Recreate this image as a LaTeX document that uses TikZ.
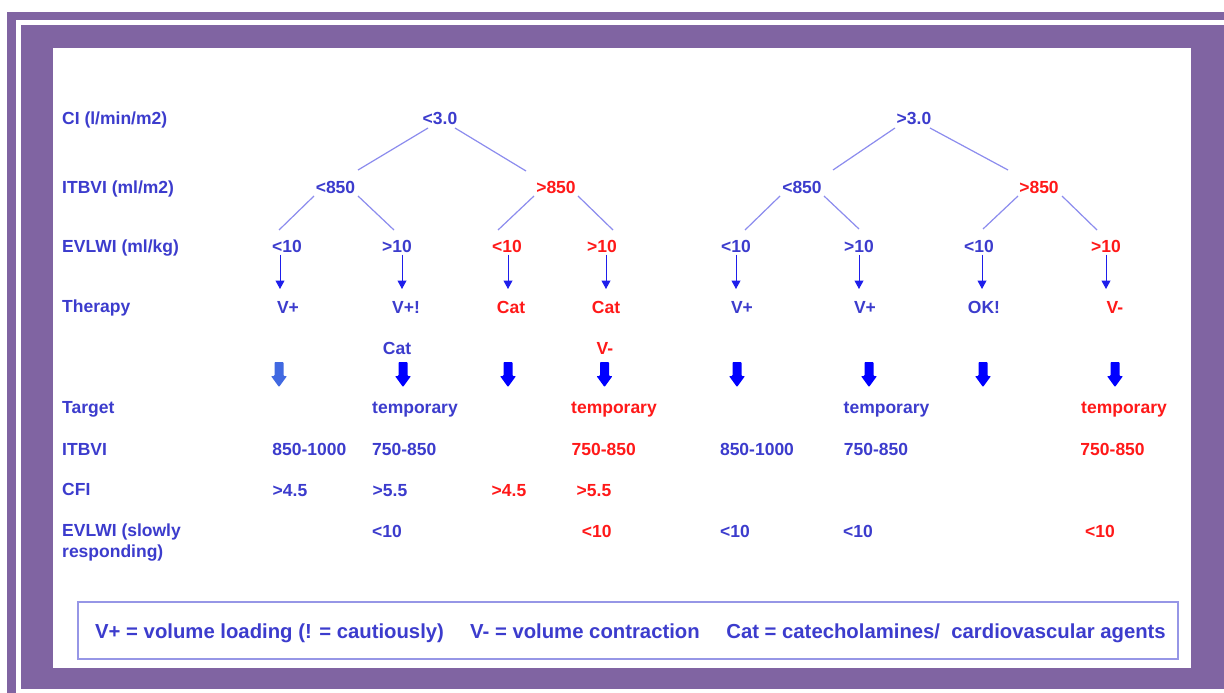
\documentclass[tikz,border=0pt]{standalone}
\usepackage{fontspec}
\setmainfont{Liberation Sans}
\usetikzlibrary{arrows.meta}
\definecolor{frame}{RGB}{128,100,162}
\definecolor{tb}{RGB}{60,60,205}
\definecolor{tr}{RGB}{255,25,25}
\definecolor{ln}{RGB}{140,140,238}
\definecolor{arr}{RGB}{30,30,235}
\definecolor{blk}{RGB}{0,0,255}
\definecolor{blkl}{RGB}{65,105,225}
\definecolor{lg}{RGB}{150,150,230}
\begin{document}
\begin{tikzpicture}[x=1pt,y=-1pt,
  lbl/.style={font=\bfseries\fontsize{17.5}{21}\selectfont, text height=12.5pt, text depth=0pt, inner sep=0pt, text=tb},
  bl/.style={lbl},
  rd/.style={lbl,text=tr},
  row/.style={lbl,anchor=west},
  tl/.style={draw=ln,line width=1.2pt},
  sa/.style={draw=arr,line width=1pt,-{Triangle[length=8.5pt,width=9pt]}},
  legtext/.style={font=\bfseries\fontsize{20.3}{24}\selectfont, text height=14.5pt, text depth=0pt, inner sep=0pt, text=tb},
  blockarrow/.pic={\fill[rounded corners=0.8pt] (-4.5,0) -- (4.5,0) -- (4.5,14) -- (8,14) -- (0,25) -- (-8,14) -- (-4.5,14) -- cycle;}
]
\useasboundingbox (0,0) rectangle (1224,693);
% frame
\fill[white] (0,0) rectangle (1224,693);
\fill[frame] (7,12) rectangle (1224,693);
\fill[white] (16,20.5) rectangle (1224,693);
\fill[frame] (21,25) rectangle (1224,689);
\fill[white] (53,48) rectangle (1191,668);

% row labels
\node[row] (rCI) at (62,118) {CI (l/min/m2)};
\node[row] (rIT) at (62,187) {ITBVI (ml/m2)};
\node[row] (rEV) at (62,246.5) {EVLWI (ml/kg)};
\node[row] (rTh) at (62,306.5) {Therapy};
\node[row] (rTa) at (62,407.5) {Target};
\node[row] (rIT2) at (62,449.5) {ITBVI};
\node[row] (rCFI) at (62,489.5) {CFI};
\node[row] (rEs1) at (62,530) {EVLWI (slowly};
\node[row] (rEs2) at (62,551) {responding)};

% tree
\node[bl] (a0) at (440,118) {<3.0};
\node[bl] (b0) at (914,118) {>3.0};
\node[bl] (a1) at (335.5,187) {<850};
\node[rd] (a2) at (556,187) {>850};
\node[bl] (b1) at (802,187) {<850};
\node[rd] (b2) at (1039,187) {>850};

\node[bl] (e1) at (287,246.5) {<10};
\node[bl] (e2) at (397,246.5) {>10};
\node[rd] (e3) at (507,246.5) {<10};
\node[rd] (e4) at (602,246.5) {>10};
\node[bl] (e5) at (736,246.5) {<10};
\node[bl] (e6) at (859,246.5) {>10};
\node[bl] (e7) at (979,246.5) {<10};
\node[rd] (e8) at (1106,246.5) {>10};

\draw[tl] ([xshift=-12pt,yshift=-10pt]a0.center) -- ([xshift=22.5pt,yshift=17pt]a1.center);
\draw[tl] ([xshift=15pt,yshift=-10pt]a0.center) -- ([xshift=-30pt,yshift=16pt]a2.center);
\draw[tl] ([xshift=-21.5pt,yshift=-9pt]a1.center) -- ([xshift=-8pt,yshift=16.5pt]e1.center);
\draw[tl] ([xshift=22.5pt,yshift=-9pt]a1.center) -- ([xshift=-3pt,yshift=16.5pt]e2.center);
\draw[tl] ([xshift=-22pt,yshift=-9pt]a2.center) -- ([xshift=-9pt,yshift=16.5pt]e3.center);
\draw[tl] ([xshift=22pt,yshift=-9pt]a2.center) -- ([xshift=11pt,yshift=16.5pt]e4.center);
\draw[tl] ([xshift=-19pt,yshift=-10pt]b0.center) -- ([xshift=31pt,yshift=17pt]b1.center);
\draw[tl] ([xshift=16pt,yshift=-10pt]b0.center) -- ([xshift=-31pt,yshift=17pt]b2.center);
\draw[tl] ([xshift=-22pt,yshift=-9pt]b1.center) -- ([xshift=9pt,yshift=16.5pt]e5.center);
\draw[tl] ([xshift=22pt,yshift=-9pt]b1.center) -- ([xshift=0pt,yshift=17.5pt]e6.center);
\draw[tl] ([xshift=-21pt,yshift=-9pt]b2.center) -- ([xshift=4pt,yshift=17.5pt]e7.center);
\draw[tl] ([xshift=23pt,yshift=-9pt]b2.center) -- ([xshift=-9pt,yshift=16.5pt]e8.center);

% small arrows
\draw[sa] ([xshift=-7pt,yshift=-8pt]e1.center) -- ([xshift=-7pt,yshift=-42.5pt]e1.center);
\draw[sa] ([xshift=5pt,yshift=-8pt]e2.center) -- ([xshift=5pt,yshift=-42.5pt]e2.center);
\draw[sa] ([xshift=1pt,yshift=-8pt]e3.center) -- ([xshift=1pt,yshift=-42.5pt]e3.center);
\draw[sa] ([xshift=4pt,yshift=-8pt]e4.center) -- ([xshift=4pt,yshift=-42.5pt]e4.center);
\draw[sa] ([yshift=-8pt]e5.center) -- ([yshift=-42.5pt]e5.center);
\draw[sa] ([yshift=-8pt]e6.center) -- ([yshift=-42.5pt]e6.center);
\draw[sa] ([xshift=3pt,yshift=-8pt]e7.center) -- ([xshift=3pt,yshift=-42.5pt]e7.center);
\draw[sa] ([yshift=-8pt]e8.center) -- ([yshift=-42.5pt]e8.center);

% therapy
\node[bl] (t1) at (288,307) {V+};
\node[bl] (t2) at (406,307) {V+!};
\node[rd] (t3) at (511,307) {Cat};
\node[rd] (t4) at (606,307) {Cat};
\node[bl] (t5) at (742,307) {V+};
\node[bl] (t6) at (865,307) {V+};
\node[bl] (t7) at (984,307) {OK!};
\node[rd] (t8) at (1115,307) {V-};
\node[bl] (c2) at (397,348.3) {Cat};
\node[rd] (c4) at (605,348.3) {V-};

% block arrows
\pic[blkl] at (279,362) {blockarrow};
\pic[blk] at (403,362) {blockarrow};
\pic[blk] at (508,362) {blockarrow};
\pic[blk] at (604.5,362) {blockarrow};
\pic[blk] at (737,362) {blockarrow};
\pic[blk] at (869,362) {blockarrow};
\pic[blk] at (983,362) {blockarrow};
\pic[blk] at (1115,362) {blockarrow};

% target
\node[bl] (g1) at (415,407.7) {temporary};
\node[rd] (g2) at (614,407.7) {temporary};
\node[bl] (g3) at (886.5,407.7) {temporary};
\node[rd] (g4) at (1124,407.7) {temporary};

\node[bl] (i1) at (309.3,449.5) {850-1000};
\node[bl] (i2) at (404.3,449.5) {750-850};
\node[rd] (i3) at (603.7,449.5) {750-850};
\node[bl] (i4) at (757,449.5) {850-1000};
\node[bl] (i5) at (876,449.5) {750-850};
\node[rd] (i6) at (1112.6,449.5) {750-850};

\node[bl] (f1) at (290,490) {>4.5};
\node[bl] (f2) at (390,490) {>5.5};
\node[rd] (f3) at (509,490) {>4.5};
\node[rd] (f4) at (594,490) {>5.5};

\node[bl] (s1) at (387,531) {<10};
\node[rd] (s2) at (596.7,531) {<10};
\node[bl] (s3) at (735,531) {<10};
\node[bl] (s4) at (858,531) {<10};
\node[rd] (s5) at (1100,531) {<10};

% legend
\node[draw=lg, line width=1.2pt, minimum width=1100pt, minimum height=57pt, inner sep=0pt] (legbox) at (628,630.5) {};
\node[legtext, anchor=west] (l1) at (95,631) {V+ = volume loading (! = cautiously)};
\node[legtext, anchor=west] (l2) at (470,631) {V- = volume contraction};
\node[legtext, anchor=east] (l3) at (1166,631) {Cat = catecholamines/\ \ cardiovascular agents};
\end{tikzpicture}
\end{document}
